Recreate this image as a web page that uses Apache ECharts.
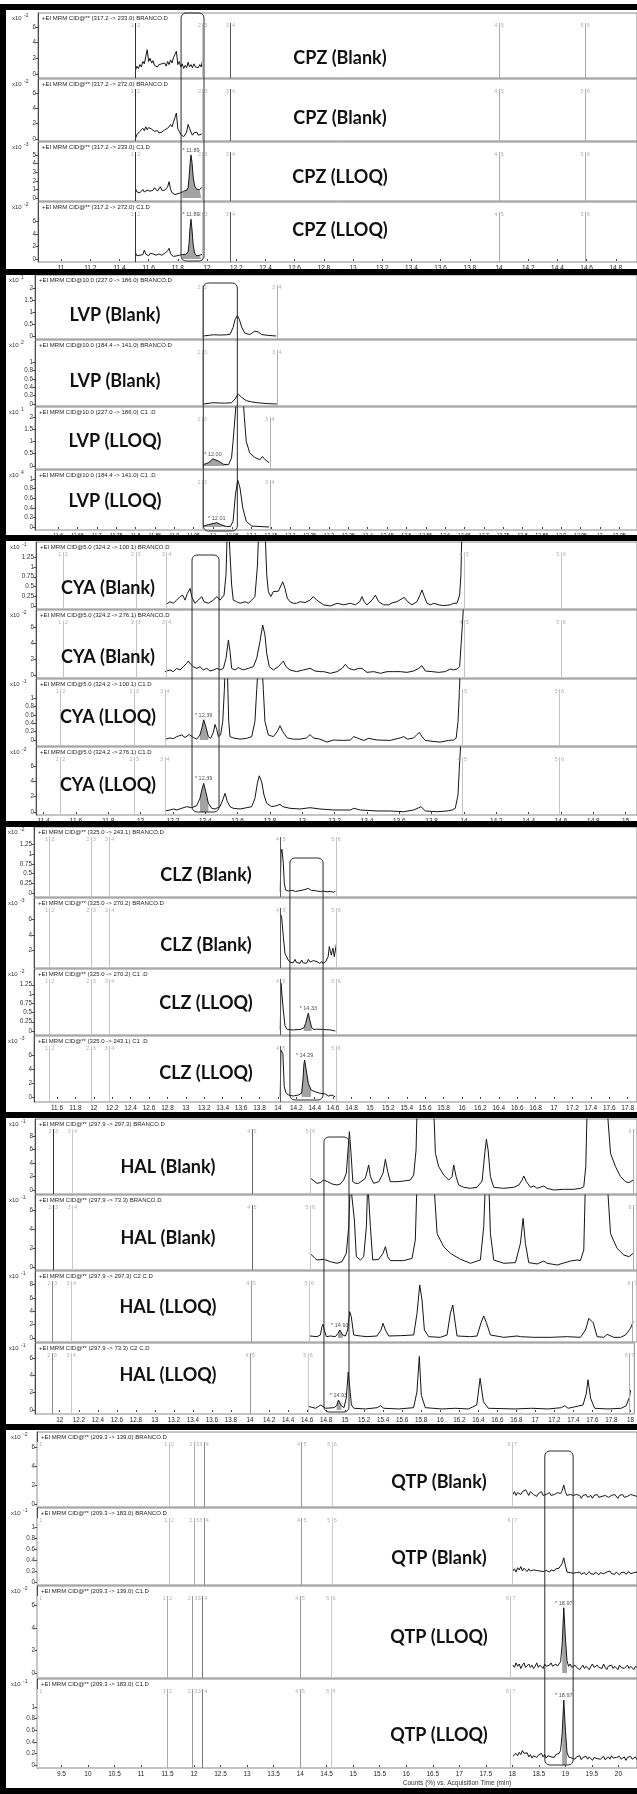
<!DOCTYPE html>
<html>
<head>
<meta charset="utf-8">
<script src="https://cdn.jsdelivr.net/npm/echarts@6/dist/echarts.min.js"></script>
<style>
html,body{margin:0;padding:0;background:#fff;}
#c{width:637px;height:1794px;}
</style>
</head>
<body>
<div id="c"></div>
<script>
// ---------- CPZ : chlorpromazine ----------
const cpzTimeTicks = [11,11.2,11.4,11.6,11.8,12,12.2,12.4,12.6,12.8,13,13.2,13.4,13.6,13.8,14,14.2,14.4,14.6,14.8];
const cpzSegments = [[11.51,'1','2','#333'],[11.97,'2','3','#c4c4c4'],[12.16,'3','4','#555'],[14.0,'4','5','#aaa'],[14.59,'5','6','#aaa']];
const cpzBlank233 = [[11.51,0.5],[11.52,1.0],[11.53,0.7],[11.54,1.2],[11.55,0.9],[11.56,1.6],[11.57,1.3],[11.58,2.2],[11.59,3.1],[11.60,1.6],[11.61,2.0],[11.62,1.4],[11.63,1.7],[11.64,1.1],[11.65,1.3],[11.66,0.9],[11.67,1.2],[11.68,1.0],[11.69,1.3],[11.70,1.1],[11.71,1.4],[11.72,1.0],[11.73,1.6],[11.74,1.2],[11.75,1.8],[11.76,1.4],[11.77,2.1],[11.78,2.5],[11.79,2.9],[11.80,1.2],[11.81,1.6],[11.82,0.9],[11.83,1.3],[11.84,0.7],[11.85,1.1],[11.86,0.8],[11.87,1.5],[11.88,0.9],[11.89,1.2],[11.90,0.8],[11.91,1.3],[11.92,0.9],[11.93,1.1],[11.94,0.8],[11.95,1.2],[11.96,0.9],[11.97,1.8]];
const cpzBlank272 = [[11.51,0.1],[11.52,0.6],[11.53,0.4],[11.54,1.0],[11.55,0.8],[11.56,1.4],[11.57,1.1],[11.58,1.6],[11.59,1.2],[11.60,1.5],[11.61,1.7],[11.62,1.3],[11.63,1.5],[11.64,1.0],[11.65,0.8],[11.66,1.1],[11.67,0.8],[11.68,1.0],[11.69,0.9],[11.70,0.9],[11.71,1.2],[11.72,1.0],[11.73,1.4],[11.74,1.2],[11.75,1.9],[11.76,1.6],[11.77,2.2],[11.78,2.8],[11.79,3.4],[11.80,1.3],[11.81,1.0],[11.82,0.6],[11.83,0.8],[11.84,0.3],[11.85,0.5],[11.86,0.9],[11.87,1.9],[11.88,1.4],[11.89,0.9],[11.90,0.5],[11.91,0.8],[11.92,0.6],[11.93,0.9],[11.94,0.5],[11.95,0.7],[11.96,0.6],[11.97,0.8]];
const cpzLloq233 = [[11.51,1.1],[11.52,0.7],[11.53,0.9],[11.54,0.6],[11.55,0.8],[11.56,1.0],[11.57,0.7],[11.58,0.6],[11.59,0.9],[11.60,1.1],[11.61,0.8],[11.62,0.7],[11.63,0.9],[11.64,1.2],[11.65,1.0],[11.66,0.8],[11.67,1.0],[11.68,1.3],[11.69,0.9],[11.70,0.8],[11.71,0.9],[11.72,0.8],[11.73,1.3],[11.74,1.9],[11.75,1.0],[11.76,0.6],[11.77,0.4],[11.78,0.4],[11.79,0.5],[11.80,0.5],[11.81,0.6],[11.82,0.6],[11.83,0.7],[11.84,0.8],[11.85,0.8],[11.86,0.9],[11.87,1.2],[11.877,2.4],[11.884,4.0],[11.89,5.0],[11.897,4.1],[11.905,2.4],[11.915,1.4],[11.93,1.0],[11.94,0.9],[11.95,1.0],[11.96,1.1],[11.97,1.3]];
const cpzLloq272 = [[11.51,1.0],[11.52,0.5],[11.53,0.8],[11.54,0.6],[11.55,0.9],[11.56,0.7],[11.57,1.4],[11.58,0.8],[11.59,0.6],[11.60,0.5],[11.61,0.9],[11.62,0.6],[11.63,0.8],[11.64,1.0],[11.65,0.6],[11.66,0.5],[11.67,0.8],[11.68,0.7],[11.69,0.6],[11.70,0.5],[11.71,0.9],[11.72,0.6],[11.73,1.3],[11.74,1.7],[11.75,0.8],[11.76,0.5],[11.77,0.4],[11.78,0.6],[11.79,0.5],[11.80,0.7],[11.81,0.6],[11.82,0.5],[11.83,0.7],[11.84,0.6],[11.85,0.7],[11.86,0.8],[11.87,1.1],[11.877,2.5],[11.884,5.1],[11.89,6.3],[11.897,4.6],[11.905,2.2],[11.915,0.9],[11.93,0.5],[11.94,0.5],[11.95,0.6],[11.96,0.7],[11.97,0.8]];

// ---------- LVP : levomepromazine ----------
const lvpTimeTicks = [11.6,11.65,11.7,11.75,11.8,11.85,11.9,11.95,12,12.05,12.1,12.15,12.2,12.25,12.3,12.35,12.4,12.45,12.5,12.55,12.6,12.65,12.7,12.75,12.8,12.85,12.9,12.95,13,13.05];
const lvpSegBlank = [[11.972,'2','3','#c4c4c4'],[12.165,'3','4','#b0b0b0']];
const lvpSegLloq = [[11.972,'2','3','#c4c4c4'],[12.147,'3','4','#b0b0b0']];
const lvpBlank186 = [[11.976,0],[11.99,0.03],[12.001,0.05],[12.02,0.04],[12.035,0.05],[12.044,0.07],[12.052,0.35],[12.057,0.68],[12.063,0.85],[12.068,0.7],[12.074,0.38],[12.082,0.12],[12.095,0.06],[12.108,0.2],[12.117,0.17],[12.126,0.06],[12.14,0.03],[12.163,0]];
const lvpBlank141 = [[11.976,0],[12.0,0.03],[12.03,0.02],[12.048,0.03],[12.057,0.12],[12.065,0.24],[12.074,0.16],[12.086,0.08],[12.10,0.05],[12.115,0.03],[12.14,0.01],[12.165,0]];
const lvpLloq186 = [[11.974,0.05],[11.988,0.13],[12.0,0.29],[12.014,0.2],[12.027,0.07],[12.040,0.05],[12.048,0.33],[12.052,1.0],[12.057,2.0],[12.063,3.2],[12.070,3.6],[12.077,3.0],[12.081,2.0],[12.086,1.0],[12.095,0.53],[12.108,0.35],[12.121,0.25],[12.128,0.39],[12.134,0.27],[12.145,0.13]];
const lvpLloq141 = [[11.974,0.01],[11.988,0.05],[12.01,0.09],[12.02,0.05],[12.035,0.01],[12.045,0.01],[12.052,0.12],[12.058,0.67],[12.064,0.98],[12.070,0.81],[12.077,0.4],[12.086,0.12],[12.10,0.02],[12.145,0]];

// ---------- CYA : cyamemazine ----------
const cyaTimeTicks = [11.4,11.6,11.8,12,12.2,12.4,12.6,12.8,13,13.2,13.4,13.6,13.8,14,14.2,14.4,14.6,14.8,15];
const cyaSegBlank = [[11.52,'1','2','#c4c4c4'],[11.97,'2','3','#c4c4c4'],[12.16,'3','4','#c4c4c4'],[14.0,'4','5','#c4c4c4'],[14.6,'5','6','#c4c4c4']];
const cyaSegLloq = [[11.505,'1','2','#c4c4c4'],[11.96,'2','3','#c4c4c4'],[12.15,'3','4','#c4c4c4'],[13.99,'4','5','#c4c4c4'],[14.59,'5','6','#c4c4c4']];
const cyaBlank100 = [[12.161,0.05],[12.182,0.11],[12.202,0.07],[12.223,0.15],[12.244,0.24],[12.260,0.28],[12.275,0.15],[12.289,0.32],[12.306,0.45],[12.316,0.24],[12.336,0.07],[12.357,0.15],[12.378,0.24],[12.392,0.11],[12.419,0.07],[12.450,0.15],[12.471,0.24],[12.491,0.15],[12.516,0.28],[12.528,0.8],[12.540,2.5],[12.552,1.4],[12.563,0.54],[12.573,0.15],[12.594,0.11],[12.615,0.07],[12.646,0.11],[12.666,0.07],[12.687,0.15],[12.707,0.24],[12.722,1.0],[12.740,3.0],[12.760,3.0],[12.780,0.8],[12.790,0.37],[12.805,0.24],[12.821,0.37],[12.852,0.38],[12.879,0.62],[12.893,0.45],[12.907,0.2],[12.924,0.11],[12.944,0.07],[12.965,0.07],[12.986,0.11],[13.017,0.09],[13.048,0.15],[13.068,0.24],[13.089,0.15],[13.132,0.03],[13.173,0.0],[13.215,0.07],[13.256,0.03],[13.297,0.07],[13.328,0.03],[13.355,0.11],[13.369,0.24],[13.383,0.11],[13.400,0.03],[13.431,0.15],[13.452,0.28],[13.472,0.11],[13.503,0.03],[13.534,0.03],[13.555,0.08],[13.586,0.11],[13.617,0.19],[13.631,0.22],[13.652,0.11],[13.678,0.03],[13.709,0.11],[13.730,0.30],[13.740,0.41],[13.755,0.24],[13.771,0.07],[13.792,0.03],[13.813,0.07],[13.843,0.03],[13.874,0.01],[13.915,0.03],[13.936,0.07],[13.957,0.07],[13.973,0.28],[13.981,0.8],[13.990,2.5],[13.998,3.0]];
const cyaBlank276 = [[12.150,0.42],[12.182,0.63],[12.202,0.42],[12.223,0.83],[12.244,0.63],[12.264,1.04],[12.285,1.46],[12.295,1.75],[12.310,1.33],[12.326,1.04],[12.347,0.83],[12.367,1.04],[12.388,0.63],[12.409,0.83],[12.429,0.5],[12.450,0.63],[12.471,0.83],[12.491,0.63],[12.512,0.83],[12.528,2.08],[12.543,4.38],[12.553,2.92],[12.563,0.83],[12.584,0.63],[12.604,0.92],[12.635,0.63],[12.666,0.83],[12.697,1.04],[12.718,2.08],[12.738,4.17],[12.755,6.25],[12.769,5.0],[12.780,2.71],[12.796,1.04],[12.821,0.63],[12.852,1.04],[12.883,1.75],[12.899,1.04],[12.924,0.63],[12.965,0.42],[13.006,0.63],[13.048,0.83],[13.079,0.5],[13.109,0.42],[13.132,0.42],[13.173,0.21],[13.215,0.42],[13.246,0.83],[13.266,1.33],[13.287,0.83],[13.318,0.63],[13.349,0.83],[13.369,0.83],[13.400,0.33],[13.442,0.42],[13.483,0.21],[13.524,0.42],[13.565,0.42],[13.606,0.42],[13.647,0.33],[13.689,0.5],[13.720,0.83],[13.740,1.17],[13.761,0.5],[13.802,0.42],[13.843,0.33],[13.884,0.42],[13.915,0.75],[13.936,0.63],[13.957,0.75],[13.973,1.04],[13.981,3.5],[13.990,6.25],[13.998,9.0]];
const cyaLloq100 = [[12.154,0.02],[12.182,0.05],[12.202,0.03],[12.223,0.08],[12.254,0.12],[12.275,0.06],[12.301,0.13],[12.326,0.06],[12.347,0.02],[12.367,0.12],[12.380,0.3],[12.39,0.48],[12.403,0.32],[12.419,0.08],[12.433,0.04],[12.450,0.18],[12.460,0.37],[12.471,0.25],[12.481,0.08],[12.495,0.12],[12.508,0.44],[12.518,1.2],[12.527,2.2],[12.537,1.6],[12.545,0.44],[12.553,0.08],[12.573,0.05],[12.615,0.02],[12.656,0.04],[12.687,0.08],[12.707,0.44],[12.718,1.2],[12.74,2.5],[12.759,1.2],[12.769,0.44],[12.790,0.12],[12.821,0.08],[12.845,0.2],[12.862,0.34],[12.879,0.2],[12.907,0.05],[12.944,0.02],[12.986,0.02],[13.027,0.05],[13.048,0.13],[13.068,0.05],[13.109,0.02],[13.153,-0.05],[13.194,0.0],[13.256,-0.01],[13.297,0.0],[13.318,0.08],[13.328,0.1],[13.380,-0.01],[13.411,0.04],[13.421,0.06],[13.462,0.0],[13.544,-0.01],[13.606,0.05],[13.627,0.08],[13.652,0.02],[13.689,0.05],[13.709,0.13],[13.725,0.18],[13.740,0.08],[13.761,-0.01],[13.802,-0.03],[13.853,-0.05],[13.905,-0.01],[13.936,0.0],[13.952,0.05],[13.963,0.44],[13.971,1.1],[13.98,2.0]];
const cyaLloq276 = [[12.150,0.13],[12.182,0.26],[12.202,0.39],[12.223,0.26],[12.254,0.48],[12.285,0.69],[12.316,0.56],[12.347,0.82],[12.367,1.77],[12.380,2.99],[12.39,3.72],[12.403,2.64],[12.419,1.13],[12.440,0.48],[12.460,0.39],[12.491,0.69],[12.508,1.56],[12.522,2.42],[12.537,1.34],[12.553,0.69],[12.573,0.48],[12.615,0.39],[12.656,0.56],[12.687,0.69],[12.707,1.77],[12.722,3.72],[12.734,4.7],[12.749,3.9],[12.763,2.21],[12.780,1.13],[12.811,0.69],[12.842,0.82],[12.862,1.0],[12.879,0.69],[12.924,0.48],[12.986,0.39],[13.048,0.56],[13.109,0.39],[13.194,0.26],[13.297,0.26],[13.318,0.48],[13.359,0.26],[13.462,0.13],[13.544,0.13],[13.627,0.04],[13.689,0.26],[13.720,0.56],[13.734,0.69],[13.761,0.13],[13.833,0.04],[13.895,0.13],[13.926,0.26],[13.946,0.48],[13.963,2.21],[13.971,5.67],[13.98,9.0]];

// ---------- CLZ : clozapine ----------
const clzTimeTicks = [11.6,11.8,12,12.2,12.4,12.6,12.8,13,13.2,13.4,13.6,13.8,14,14.2,14.4,14.6,14.8,15,15.2,15.4,15.6,15.8,16,16.2,16.4,16.6,16.8,17,17.2,17.4,17.6,17.8];
const clzSegments = [[11.52,'1','2','#c4c4c4'],[11.97,'2','3','#c4c4c4'],[12.17,'3','4','#c4c4c4'],[14.03,'4','5','#555'],[14.63,'5','6','#c4c4c4']];
const clzBlank243 = [[14.025,0.04],[14.033,1.03],[14.043,1.13],[14.058,0.77],[14.069,0.25],[14.083,0.08],[14.112,0.05],[14.14,0.07],[14.167,0.06],[14.19,0.04],[14.203,0.05],[14.239,0.06],[14.26,0.08],[14.293,0.09],[14.31,0.1],[14.330,0.12],[14.35,0.08],[14.366,0.06],[14.39,0.07],[14.42,0.05],[14.46,0.04],[14.497,0.05],[14.533,0.03],[14.568,0.04],[14.605,0.02],[14.623,0.05]];
const clzBlank270 = [[14.025,6.8],[14.040,6.3],[14.058,3.8],[14.076,1.6],[14.094,1.2],[14.112,0.77],[14.13,0.5],[14.149,0.56],[14.165,0.4],[14.185,0.86],[14.20,0.45],[14.221,0.56],[14.24,0.35],[14.257,0.77],[14.275,0.4],[14.293,0.56],[14.31,0.35],[14.330,0.86],[14.35,0.5],[14.366,0.43],[14.385,0.7],[14.402,0.69],[14.424,0.56],[14.44,0.8],[14.453,0.34],[14.478,0.56],[14.49,0.3],[14.503,0.26],[14.52,0.6],[14.533,0.77],[14.545,1.2],[14.558,2.5],[14.570,1.9],[14.580,1.4],[14.590,2.0],[14.598,2.3],[14.612,1.2],[14.634,2.8]];
const clzLloq270 = [[14.025,0.03],[14.033,1.29],[14.047,1.29],[14.058,0.57],[14.076,0.14],[14.101,0.04],[14.167,0.03],[14.239,0.04],[14.28,0.08],[14.30,0.2],[14.318,0.38],[14.33,0.48],[14.345,0.3],[14.366,0.09],[14.391,0.04],[14.42,0.05],[14.497,0.04],[14.568,0.03],[14.623,0.0]];
const clzLloq243 = [[14.025,0.0],[14.033,6.7],[14.043,6.95],[14.054,6.2],[14.069,1.48],[14.087,0.62],[14.112,0.29],[14.167,0.14],[14.221,0.29],[14.257,0.52],[14.272,2.43],[14.282,4.57],[14.29,5.29],[14.305,4.1],[14.33,1.95],[14.36,1.0],[14.402,0.76],[14.438,0.62],[14.460,0.52],[14.478,0.29],[14.514,0.43],[14.551,0.14],[14.587,0.29],[14.623,0.0]];

// ---------- HAL : haloperidol ----------
const halTimeTicks = [12,12.2,12.4,12.6,12.8,13,13.2,13.4,13.6,13.8,14,14.2,14.4,14.6,14.8,15,15.2,15.4,15.6,15.8,16,16.2,16.4,16.6,16.8,17,17.2,17.4,17.6,17.8,18];
const halSegBlank = [[11.93,'2','3','#333'],[12.13,'3','4','#c8c8c8'],[14.01,'4','5','#666'],[14.62,'5','6','#c8c8c8'],[18.0,'6','7','#aaa']];
const halSegLloq = [[11.92,'2','3','#888'],[12.12,'3','4','#c8c8c8'],[14.0,'4','5','#999'],[14.61,'5','6','#c8c8c8'],[17.99,'6','7','#aaa']];
const halBlank297 = [[14.618,1.82],[14.670,1.23],[14.691,0.99],[14.726,1.09],[14.761,1.48],[14.778,1.73],[14.803,1.23],[14.848,0.89],[14.900,0.74],[14.935,0.89],[14.970,1.48],[14.998,2.47],[15.016,5.93],[15.030,8.64],[15.045,5.93],[15.066,1.23],[15.092,0.99],[15.127,0.99],[15.197,1.73],[15.232,3.70],[15.250,1.98],[15.284,0.99],[15.337,1.23],[15.382,2.47],[15.407,4.54],[15.431,2.72],[15.459,1.23],[15.529,1.23],[15.598,1.33],[15.668,1.48],[15.703,2.22],[15.728,5.93],[15.738,12],[15.913,12],[15.930,5.43],[15.965,3.46],[16.017,2.22],[16.070,1.48],[16.105,1.98],[16.122,3.70],[16.147,1.98],[16.174,0.74],[16.227,0.4],[16.297,0.25],[16.366,0.4],[16.419,1.33],[16.447,5.43],[16.464,7.51],[16.482,5.93],[16.506,1.98],[16.541,0.4],[16.645,0.25],[16.750,0.4],[16.803,0.74],[16.838,1.48],[16.855,2.08],[16.883,1.23],[16.925,0.4],[16.960,0.59],[16.995,0.25],[17.064,0.59],[17.099,0.25],[17.169,0],[17.274,0.1],[17.379,0.1],[17.448,0.25],[17.483,0.49],[17.504,3.46],[17.518,12],[17.728,12],[17.763,5.43],[17.815,3.46],[17.867,1.98],[17.920,1.23],[17.955,1.09],[18.0,1.48]];
const halBlank73 = [[14.618,1.44],[14.670,0.91],[14.691,0.74],[14.761,0.81],[14.831,0.56],[14.900,0.39],[14.953,0.56],[14.998,1.44],[15.023,4.25],[15.040,9],[15.058,9],[15.082,4.95],[15.103,1.09],[15.145,0.74],[15.180,1.09],[15.208,4.25],[15.222,9],[15.240,9],[15.250,4.25],[15.274,0.74],[15.337,0.81],[15.382,1.44],[15.407,2.14],[15.431,1.09],[15.459,0.67],[15.598,0.67],[15.686,0.91],[15.720,2.84],[15.738,9],[15.913,9],[15.948,3.51],[16.017,2.14],[16.087,1.44],[16.192,0.81],[16.297,0.39],[16.401,0.74],[16.436,4.25],[16.454,9],[16.489,9],[16.506,3.51],[16.541,0.74],[16.646,0.39],[16.768,0.46],[16.820,2.49],[16.848,5.12],[16.872,2.49],[16.907,0.46],[16.995,0.32],[17.064,0.63],[17.099,0.39],[17.204,0.21],[17.344,0.63],[17.413,0.74],[17.448,0.67],[17.483,1.79],[17.500,9],[17.728,9],[17.763,3.51],[17.832,1.96],[17.902,1.26],[17.955,1.09],[18.0,1.44]];
const halLloq297 = [[14.618,0.3],[14.691,0.2],[14.726,0.45],[14.743,1.7],[14.754,2.05],[14.768,1.2],[14.789,0.2],[14.831,0.3],[14.883,0.2],[14.911,0.7],[14.93,1.2],[14.960,0.45],[14.988,0.3],[15.012,1.2],[15.033,3.95],[15.050,3.2],[15.075,0.45],[15.145,0.3],[15.215,0.2],[15.319,0.3],[15.361,1.2],[15.382,2.2],[15.407,1.2],[15.441,0.3],[15.563,0.35],[15.703,0.45],[15.738,3.7],[15.766,7.95],[15.790,5.7],[15.815,1.2],[15.860,0.2],[15.982,0.1],[16.052,0.45],[16.087,3.7],[16.112,4.95],[16.133,2.7],[16.157,0.3],[16.297,0.2],[16.366,0.3],[16.408,2.3],[16.436,3.3],[16.464,2.3],[16.506,0.45],[16.646,0.1],[16.785,0.3],[16.820,0.2],[16.960,0.1],[17.134,0.1],[17.309,0.2],[17.448,0.1],[17.501,1.2],[17.536,2.95],[17.553,3.2],[17.581,2.3],[17.623,0.2],[17.693,0.1],[17.728,0.55],[17.797,0.1],[17.867,0.1],[17.920,0.45],[17.972,1.45],[18.0,2.45]];
const halLloq73 = [[14.618,0.4],[14.691,0.2],[14.743,0.58],[14.796,0.2],[14.883,0.27],[14.911,0.5],[14.93,1.16],[14.960,0.5],[14.988,0.27],[15.012,1.35],[15.033,4.4],[15.054,2.0],[15.066,0.58],[15.092,0.2],[15.215,0.12],[15.337,0.27],[15.372,0.5],[15.407,0.2],[15.564,0.12],[15.720,0.27],[15.755,2.1],[15.780,6.2],[15.801,1.7],[15.843,0.27],[16.017,0.12],[16.157,0.2],[16.297,0.12],[16.384,0.58],[16.419,3.66],[16.454,0.96],[16.506,0.2],[16.785,0.12],[16.960,0.2],[17.134,0.12],[17.274,0.27],[17.309,0.5],[17.344,0.2],[17.501,0.58],[17.536,1.93],[17.553,3.5],[17.581,1.35],[17.623,0.2],[17.762,0.12],[17.902,0.2],[17.955,0.5],[17.990,1.5],[18.0,2.3]];

// ---------- QTP : quetiapine (sampled every 0.03 min from 18.01) ----------
const qtpTimeTicks = [9.5,10,10.5,11,11.5,12,12.5,13,13.5,14,14.5,15,15.5,16,16.5,17,17.5,18,18.5,19,19.5,20];
const qtpSegBlank = [[9.05,'','1','#c8c8c8'],[11.53,'1','2','#c0c0c0'],[12.0,'2','3','#aaa'],[12.19,'3','4','#888'],[14.03,'4','5','#999'],[14.6,'5','6','#c8c8c8'],[18.0,'6','7','#c8c8c8']];
const qtpSegLloq = [[9.05,'','1','#c8c8c8'],[11.5,'1','2','#aaa'],[11.97,'2','3','#999'],[12.16,'3','4','#777'],[14.0,'4','5','#999'],[14.58,'5','6','#c8c8c8'],[17.97,'6','7','#c8c8c8']];
const qtpStart = 18.01, qtpStep = 0.03;
const qtpBlank139 = [1.0,1.3,0.9,1.2,1.4,1.0,1.3,1.1,1.5,1.2,0.9,1.3,1.1,1.0,1.2,0.8,1.1,1.0,1.3,0.9,1.1,1.0,0.8,1.2,0.9,1.1,1.0,0.9,1.2,1.0,1.1,1.4,2.0,1.3,0.9,0.7,1.0,0.8,0.9,0.7,1.0,0.8,0.9,0.6,0.9,0.8,1.0,0.7,0.8,0.9,0.6,0.9,0.8,1.0,0.7,0.9,0.8,0.6,0.9,1.0,0.7,0.8,0.9,0.7,1.0,0.8,0.6,0.9,0.8,1.0,0.7,0.9,0.8,0.7,1.0,0.8,0.9,0.7,0.8,0.9];
const qtpBlank183 = [0.2,0.24,0.18,0.26,0.22,0.28,0.2,0.25,0.22,0.19,0.24,0.2,0.17,0.22,0.19,0.21,0.18,0.2,0.23,0.19,0.17,0.21,0.2,0.18,0.22,0.19,0.2,0.24,0.21,0.25,0.28,0.34,0.44,0.3,0.18,0.15,0.17,0.14,0.16,0.13,0.17,0.15,0.18,0.14,0.16,0.17,0.13,0.16,0.19,0.15,0.17,0.14,0.18,0.16,0.13,0.17,0.19,0.15,0.14,0.18,0.16,0.2,0.15,0.17,0.14,0.18,0.16,0.13,0.17,0.15,0.18,0.14,0.16,0.19,0.15,0.13,0.17,0.15,0.18,0.16];
const qtpLloq139 = [0.7,0.5,0.9,0.6,0.8,0.4,0.7,0.9,0.5,0.6,0.8,0.5,0.7,0.4,0.6,0.9,0.5,0.7,0.6,0.4,0.8,0.6,0.5,0.7,0.9,0.6,0.5,0.8,0.6,0.7,1.0,2.6,5.8,3.1,1.1,0.6,0.8,0.5,0.4,0.7,0.5,0.6,0.3,0.5,0.7,0.4,0.6,0.5,0.3,0.6,0.8,0.5,0.4,0.7,0.5,0.6,0.4,0.8,0.5,0.3,0.6,0.5,0.7,0.4,0.6,0.5,0.3,0.7,0.5,0.6,0.4,0.5,0.7,0.4,0.6,0.5,0.3,0.6,0.5,0.4];
const qtpLloq183 = [0.15,0.12,0.2,0.16,0.22,0.18,0.25,0.2,0.17,0.21,0.14,0.18,0.12,0.16,0.19,0.13,0.17,0.15,0.2,0.14,0.18,0.12,0.16,0.19,0.14,0.17,0.13,0.18,0.16,0.2,0.25,0.55,1.12,0.6,0.22,0.14,0.17,0.12,0.15,0.1,0.14,0.12,0.16,0.09,0.13,0.11,0.15,0.1,0.14,0.12,0.08,0.13,0.16,0.11,0.14,0.1,0.13,0.15,0.09,0.12,0.14,0.1,0.16,0.12,0.09,0.13,0.11,0.15,0.1,0.12,0.14,0.08,0.13,0.11,0.15,0.1,0.12,0.14,0.09,0.12];

const sampled = vals => vals.map((v, i) => [+(qtpStart + i * qtpStep).toFixed(3), v]);

// ---------- figure layout (pixels) ----------
const layout = {
  cpz: { left: 38, tMin: 10.842, tMax: 14.945, axisFont: 6.5, labelX: 340, labelY: [58,118,177,230], box: [13,261],
         panels: [[13,78,74,7.83],[79,141,139,7.65],[142,201,198,8.6],[202,262,259,6.3]] },
  lvp: { left: 35, tMin: 11.54, tMax: 13.096, axisFont: 5.2, labelX: 115, labelY: [315,381,441,501], box: [283,531],
         panels: [[275,339,336,24],[340,406,404,41.7],[407,469,466,24.6],[470,530,527,48]] },
  cya: { left: 36, tMin: 11.353, tMax: 15.07, axisFont: 6.5, labelX: 108, labelY: [588,657,717,785], box: [555,812],
         panels: [[542,609,606,39],[610,678,675,8],[679,746,740,42],[747,815,812,7.7]] },
  clz: { left: 34, tMin: 11.35, tMax: 17.9, axisFont: 6.5, labelX: 206, labelY: [875,945,1003,1073], box: [858,1100],
         panels: [[827,897,893,38.7],[898,968,966,7.75],[969,1035,1031,37],[1036,1102,1097,7]] },
  hal: { left: 35, tMin: 11.74, tMax: 18.04, axisFont: 6.3, labelX: 168, labelY: [1167,1238,1307,1375], box: [1137,1412],
         panels: [[1119,1194,1190,6.75],[1195,1270,1267,9.5],[1271,1342,1338,6.67],[1343,1414,1410,8.65]] },
  qtp: { left: 37, tMin: 9.04, tMax: 20.35, axisFont: 6.5, labelX: 439, labelY: [1482,1558,1637,1735], box: [1451,1765],
         panels: [[1432,1507,1504,9.5],[1508,1585,1582,55],[1586,1678,1673,11.25],[1679,1768,1765,58]] }
};
const blackBars = [[4,10],[269,275],[535,541],[821,827],[1112,1118],[1424,1430],[1788,1794]];

// ---------- blocks: what each panel shows ----------
const blocks = [
  { key: 'cpz', xTicks: cpzTimeTicks, box: [11.822, 11.979], panels: [
    { header: '+EI MRM CID@** (317.2 -> 233.0) BRANCO.D', title: 'CPZ (Blank)', exp: '-2', yTicks: [0,2,4,6], trace: cpzBlank233, segs: cpzSegments },
    { header: '+EI MRM CID@** (317.2 -> 272.0) BRANCO.D', title: 'CPZ (Blank)', exp: '-2', yTicks: [0,2,4,6], trace: cpzBlank272, segs: cpzSegments },
    { header: '+EI MRM CID@** (317.2 -> 233.0) C1.D', title: 'CPZ (LLOQ)', exp: '-3', yTicks: [0,1,2,3,4,5], trace: cpzLloq233, segs: cpzSegments, peak: 11.89, shade: [11.83, 11.965] },
    { header: '+EI MRM CID@** (317.2 -> 272.0) C1.D', title: 'CPZ (LLOQ)', exp: '-2', yTicks: [0,2,4,6], trace: cpzLloq272, segs: cpzSegments, peak: 11.89, shade: [11.83, 11.965] } ] },
  { key: 'lvp', xTicks: lvpTimeTicks, box: [11.975, 12.063], panels: [
    { header: '+EI MRM CID@10.0 (227.0 -> 186.0) BRANCO.D', title: 'LVP (Blank)', exp: '1', yTicks: [0,0.5,1,1.5,2], trace: lvpBlank186, segs: lvpSegBlank },
    { header: '+EI MRM CID@10.0 (184.4 -> 141.0) BRANCO.D', title: 'LVP (Blank)', exp: '2', yTicks: [0,0.2,0.4,0.6,0.8,1], trace: lvpBlank141, segs: lvpSegBlank },
    { header: '+EI MRM CID@10.0 (227.0 -> 186.0) C1 .D', title: 'LVP (LLOQ)', exp: '1', yTicks: [0,0.5,1,1.5,2], trace: lvpLloq186, segs: lvpSegLloq, peak: 12.00, shade: [11.974, 12.042] },
    { header: '+EI MRM CID@10.0 (184.4 -> 141.0) C1 .D', title: 'LVP (LLOQ)', exp: '4', yTicks: [0,0.2,0.4,0.6,0.8,1], trace: lvpLloq141, segs: lvpSegLloq, peak: 12.01, shade: [11.974, 12.042] } ] },
  { key: 'cya', xTicks: cyaTimeTicks, box: [12.318, 12.485], panels: [
    { header: '+EI MRM CID@5.0 (324.2 -> 100.1) BRANCO.D', title: 'CYA (Blank)', exp: '-1', yTicks: [0,0.25,0.5,0.75,1,1.25], trace: cyaBlank100, segs: cyaSegBlank },
    { header: '+EI MRM CID@5.0 (324.2 -> 276.1) BRANCO.D', title: 'CYA (Blank)', exp: '-2', yTicks: [0,2,4,6], trace: cyaBlank276, segs: cyaSegBlank },
    { header: '+EI MRM CID@5.0 (324.2 -> 100.1) C1.D', title: 'CYA (LLOQ)', exp: '-1', yTicks: [0,0.2,0.4,0.6,0.8,1], trace: cyaLloq100, segs: cyaSegLloq, peak: 12.39, shade: [12.365, 12.42] },
    { header: '+EI MRM CID@5.0 (324.2 -> 276.1) C1.D', title: 'CYA (LLOQ)', exp: '-2', yTicks: [0,2,4,6], trace: cyaLloq276, segs: cyaSegLloq, peak: 12.39, shade: [12.36, 12.42] } ] },
  { key: 'clz', xTicks: clzTimeTicks, box: [14.13, 14.49], panels: [
    { header: '+EI MRM CID@** (325.0 -> 243.1) BRANCO.D', title: 'CLZ (Blank)', exp: '-2', yTicks: [0,0.25,0.5,0.75,1,1.25], trace: clzBlank243, segs: clzSegments },
    { header: '+EI MRM CID@** (325.0 -> 270.2) BRANCO.D', title: 'CLZ (Blank)', exp: '-3', yTicks: [2,4,6], trace: clzBlank270, segs: clzSegments },
    { header: '+EI MRM CID@** (325.0 -> 270.2) C1 .D', title: 'CLZ (LLOQ)', exp: '-2', yTicks: [0,0.25,0.5,0.75,1,1.25], trace: clzLloq270, segs: clzSegments, peak: 14.33, shade: [14.28, 14.38] },
    { header: '+EI MRM CID@** (325.0 -> 243.1) C1 .D', title: 'CLZ (LLOQ)', exp: '-3', yTicks: [0,2,4,6], trace: clzLloq243, segs: clzSegments, peak: 14.29, shade: [14.25, 14.40] } ] },
  { key: 'hal', xTicks: halTimeTicks, box: [14.764, 15.026], panels: [
    { header: '+EI MRM CID@** (297.9 -> 297.3) BRANCO.D', title: 'HAL (Blank)', exp: '-1', yTicks: [0,2,4,6,8], trace: halBlank297, segs: halSegBlank },
    { header: '+EI MRM CID@** (297.9 -> 73.3) BRANCO.D', title: 'HAL (Blank)', exp: '-1', yTicks: [0,2,4,6], trace: halBlank73, segs: halSegBlank },
    { header: '+EI MRM CID@** (297.9 -> 297.3) C2 C.D', title: 'HAL (LLOQ)', exp: '-1', yTicks: [0,2,4,6,8], trace: halLloq297, segs: halSegLloq, peak: 14.93, shade: [14.90, 14.96] },
    { header: '+EI MRM CID@** (297.9 -> 73.3) C2 C.D', title: 'HAL (LLOQ)', exp: '-1', yTicks: [0,2,4,6], trace: halLloq73, segs: halSegLloq, peak: 14.93, shade: [14.90, 14.96] } ] },
  { key: 'qtp', xTicks: qtpTimeTicks, box: [18.612, 19.146], panels: [
    { header: '+EI MRM CID@** (209.3 -> 139.0) BRANCO.D', title: 'QTP (Blank)', exp: '-2', yTicks: [0,2,4,6], trace: sampled(qtpBlank139), segs: qtpSegBlank },
    { header: '+EI MRM CID@** (209.3 -> 183.0) BRANCO.D', title: 'QTP (Blank)', exp: '-1', yTicks: [0,0.2,0.4,0.6,0.8,1], trace: sampled(qtpBlank183), segs: qtpSegBlank },
    { header: '+EI MRM CID@** (209.3 -> 139.0) C1.D', title: 'QTP (LLOQ)', exp: '-2', yTicks: [0,2,4,6], trace: sampled(qtpLloq139), segs: qtpSegLloq, peak: 18.97, shade: [18.92, 19.04] },
    { header: '+EI MRM CID@** (209.3 -> 183.0) C1.D', title: 'QTP (LLOQ)', exp: '-1', yTicks: [0,0.2,0.4,0.6,0.8,1], trace: sampled(qtpLloq183), segs: qtpSegLloq, peak: 18.97, shade: [18.92, 19.04] } ] }
];

// ---------- build the chart ----------
const FONT = '"Liberation Sans", Arial, sans-serif';
const fmt = v => String(Math.round(v * 100) / 100);
const chart = echarts.init(document.getElementById('c'), null, { renderer: 'canvas', width: 637, height: 1794 });

const grid = [], xAxis = [], yAxis = [], series = [], graphic = [];
const firstIndex = [];
let idx = 0;

blocks.forEach(b => {
  const L = layout[b.key];
  firstIndex.push(idx);
  b.panels.forEach((p, k) => {
    const [top, bottom, zero, ppu] = L.panels[k];
    const last = k === b.panels.length - 1;
    const yMin = -(bottom - zero) / ppu, yMax = (zero - top) / ppu;
    grid.push({ left: L.left, right: 0, top: top, height: bottom - top, show: true,
      borderColor: '#8a8a8a', borderWidth: 1, backgroundColor: '#fff' });
    xAxis.push({ type: 'value', gridIndex: idx, min: L.tMin, max: L.tMax, show: last,
      axisLine: { show: false }, splitLine: { show: false },
      axisTick: { show: true, customValues: b.xTicks, length: 2, lineStyle: { color: '#444' } },
      axisLabel: { show: true, customValues: b.xTicks, fontSize: L.axisFont, color: '#222', margin: 3,
        fontFamily: FONT, formatter: fmt } });
    yAxis.push({ type: 'value', gridIndex: idx, min: yMin, max: yMax,
      axisLine: { show: true, onZero: false, lineStyle: { color: '#4a4a4a', width: 1 } },
      axisTick: { show: true, customValues: p.yTicks, length: 2.5, lineStyle: { color: '#4a4a4a' } },
      axisLabel: { show: true, customValues: p.yTicks, fontSize: 6.3, color: '#333', margin: 2,
        fontFamily: FONT, formatter: fmt },
      splitLine: { show: false } });

    const lineTop = yMax - 10 / ppu, labelLevel = yMax - 12 / ppu;

    // integrated peak area
    if (p.shade) {
      series.push({ type: 'line', xAxisIndex: idx, yAxisIndex: idx, z: 2, silent: true, animation: false,
        showSymbol: false, lineStyle: { width: 0 },
        areaStyle: { color: '#a3a3a3', opacity: 1, origin: 'auto' },
        data: p.trace.filter(d => d[0] >= p.shade[0] && d[0] <= p.shade[1]) });
    }
    // chromatogram trace with segment boundaries
    series.push({ type: 'line', xAxisIndex: idx, yAxisIndex: idx, z: 3, silent: true, animation: false,
      showSymbol: false, clip: true, data: p.trace,
      lineStyle: { color: '#151515', width: 1 },
      markLine: { silent: true, animation: false, symbol: ['none', 'none'], label: { show: false },
        data: p.segs.map(s => [{ coord: [s[0], yMin], lineStyle: { color: s[3], width: 1, type: 'solid' } },
                               { coord: [s[0], lineTop] }]) } });
    // segment numbers either side of each boundary
    const segLabel = (pos, i) => ({ type: 'scatter', xAxisIndex: idx, yAxisIndex: idx, z: 4, silent: true,
      animation: false, symbolSize: 1, itemStyle: { color: 'rgba(0,0,0,0)' },
      label: { show: true, position: pos, distance: 1.2, formatter: '{b}', fontSize: 5.5,
        color: '#9a9a9a', fontFamily: FONT },
      data: p.segs.map(s => ({ value: [s[0], labelLevel], name: s[i] })) });
    series.push(segLabel('left', 1), segLabel('right', 2));

    // retention-time label on the integrated peak
    if (p.peak !== undefined) {
      const apex = p.trace.reduce((a, d) => Math.abs(d[0] - p.peak) < Math.abs(a[0] - p.peak) ? d : a);
      series.push({ type: 'scatter', xAxisIndex: idx, yAxisIndex: idx, z: 4, silent: true, animation: false,
        symbolSize: 1, itemStyle: { color: 'rgba(0,0,0,0)' },
        label: { show: true, position: 'top', distance: 1, formatter: '{b}', fontSize: 5.5,
          color: '#222', fontFamily: FONT },
        data: [{ value: [p.peak, apex[1]], name: '* ' + p.peak.toFixed(2) }] });
    }

    // panel header, exponent and compound label
    graphic.push({ type: 'text', z: 50, style: { text: p.header, x: L.left + 4, y: top + 2,
      font: '6px ' + FONT, fill: '#222', align: 'left', verticalAlign: 'top' } });
    graphic.push({ type: 'text', z: 50, style: { text: 'x10', x: L.left - 26, y: top + 2.5,
      font: '6px ' + FONT, fill: '#333', align: 'left', verticalAlign: 'top' } });
    graphic.push({ type: 'text', z: 50, style: { text: p.exp, x: L.left - 14, y: top + 0.5,
      font: '5px ' + FONT, fill: '#333', align: 'left', verticalAlign: 'top' } });
    graphic.push({ type: 'text', z: 50, style: { text: p.title, x: L.labelX, y: L.labelY[k],
      font: 'bold 18px Lato, "Open Sans", sans-serif', fill: '#111', align: 'center', verticalAlign: 'middle' } });
    idx++;
  });
});

// black frame around the six blocks
blackBars.forEach(([y0, y1]) => graphic.push({ type: 'rect', z: 60,
  shape: { x: 0, y: y0, width: 637, height: y1 - y0 }, style: { fill: '#000' } }));
graphic.push({ type: 'rect', z: 60, shape: { x: 0, y: 4, width: 6, height: 1790 }, style: { fill: '#000' } });
graphic.push({ type: 'text', z: 50, style: { text: 'Counts (%) vs. Acquisition Time (min)', x: 457, y: 1783,
  font: '6.5px ' + FONT, fill: '#333', align: 'center', verticalAlign: 'middle' } });

chart.setOption({ backgroundColor: '#fff', animation: false, grid, xAxis, yAxis, series, graphic });

// highlight window around each analyte's retention time
const boxes = blocks.map((b, bi) => {
  const L = layout[b.key];
  const x0 = chart.convertToPixel({ xAxisIndex: firstIndex[bi] }, b.box[0]);
  const x1 = chart.convertToPixel({ xAxisIndex: firstIndex[bi] }, b.box[1]);
  return { type: 'rect', z: 55, shape: { x: x0, y: L.box[0], width: x1 - x0, height: L.box[1] - L.box[0], r: 5 },
    style: { fill: 'none', stroke: '#2a2a2a', lineWidth: 1 } };
});
chart.setOption({ graphic: graphic.concat(boxes) });
</script>
</body>
</html>
